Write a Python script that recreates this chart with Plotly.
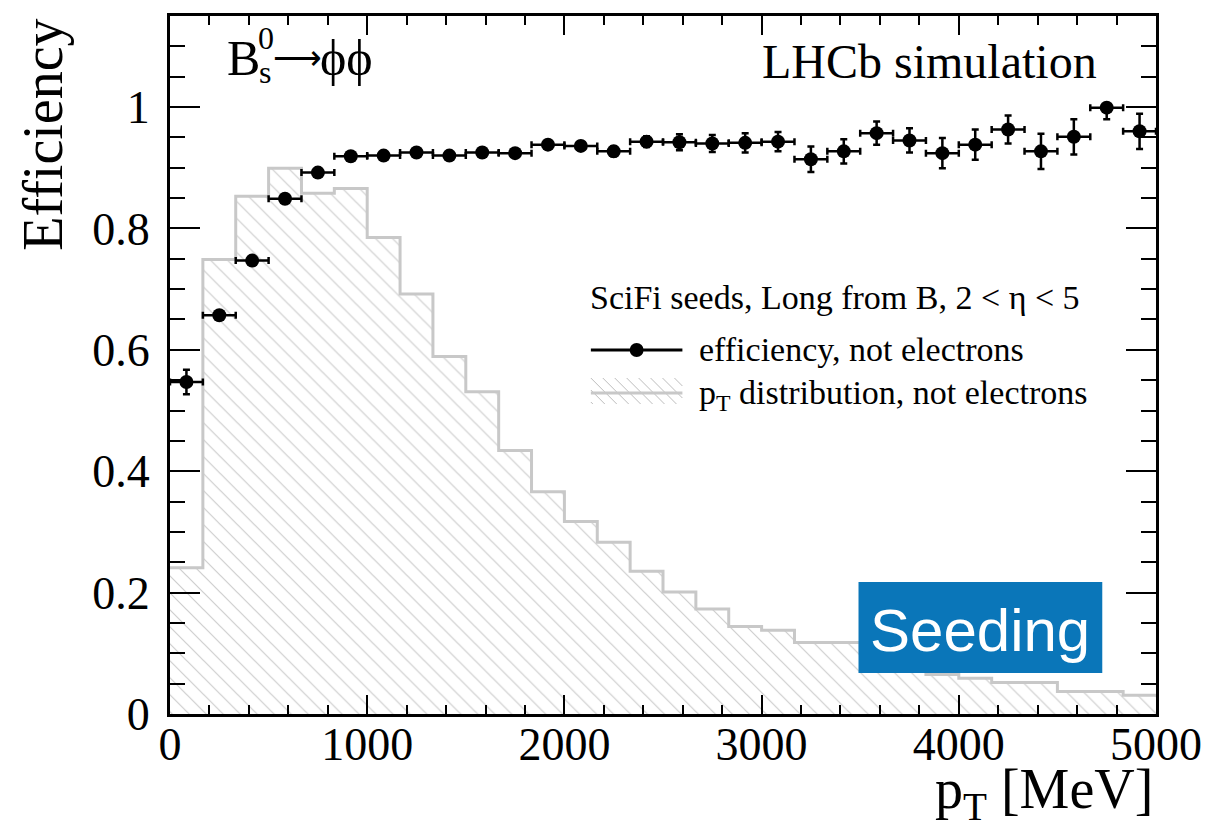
import numpy as np
import plotly.graph_objects as go

# ---------------- data ----------------
pt_min, pt_max, n_bins = 0.0, 5000.0, 30
bin_edges = np.linspace(pt_min, pt_max, n_bins + 1)
bin_centers = 0.5 * (bin_edges[:-1] + bin_edges[1:])
bin_half_width = 0.5 * (bin_edges[1] - bin_edges[0])

efficiency = [0.547, 0.657, 0.747, 0.849, 0.892, 0.919, 0.920, 0.925, 0.920, 0.925,
              0.924, 0.938, 0.936, 0.927, 0.943, 0.942, 0.940, 0.941, 0.943, 0.914,
              0.927, 0.957, 0.945, 0.924, 0.938, 0.963, 0.927, 0.951, 0.999, 0.960]
eff_err_up = [0.020, 0.005, 0.005, 0.005, 0.005, 0.004, 0.004, 0.004, 0.005, 0.005,
              0.006, 0.007, 0.007, 0.008, 0.009, 0.013, 0.014, 0.016, 0.016, 0.021,
              0.020, 0.019, 0.020, 0.025, 0.025, 0.023, 0.029, 0.029, 0.000, 0.029]
eff_err_dn = [0.020, 0.005, 0.005, 0.005, 0.005, 0.004, 0.004, 0.004, 0.005, 0.005,
              0.006, 0.007, 0.007, 0.008, 0.009, 0.013, 0.014, 0.016, 0.016, 0.021,
              0.020, 0.019, 0.020, 0.025, 0.025, 0.023, 0.029, 0.029, 0.019, 0.029]

pt_distribution = [0.241, 0.749, 0.853, 0.899, 0.858, 0.866, 0.785, 0.692, 0.589, 0.531,
                   0.434, 0.366, 0.317, 0.283, 0.235, 0.201, 0.173, 0.144, 0.138, 0.118,
                   0.118, 0.100, 0.083, 0.065, 0.059, 0.052, 0.052, 0.037, 0.037, 0.031]

x_ticks = [0, 1000, 2000, 3000, 4000, 5000]
y_ticks = [0, 0.2, 0.4, 0.6, 0.8, 1.0]

# ---------------- geometry helpers (page pixels -> paper) ----------------
W, H = 1214, 830
ML, MR, MT, MB = 170, 53, 16, 116
PW, PH = W - ML - MR, H - MT - MB


def px(x):
    return (x - ML) / PW


def py(y):
    return (H - MB - y) / PH


SERIF = "Liberation Serif, Times New Roman, serif"
SANS = "Liberation Sans, Arial, sans-serif"
HIST_GREY = "#c8c8c8"

fig = go.Figure()

# histogram (step, hatched)
fig.add_trace(go.Scatter(
    x=bin_edges, y=list(pt_distribution) + [pt_distribution[-1]],
    mode="lines", line=dict(shape="hv", color=HIST_GREY, width=3),
    fill="tozeroy",
    fillpattern=dict(shape="\\", fgcolor="#9a9a9a", bgcolor="rgba(255,255,255,0)",
                     size=12, solidity=0.1),
    fillcolor="rgba(255,255,255,0)",
    showlegend=False, hoverinfo="skip",
))

# efficiency points
fig.add_trace(go.Scatter(
    x=bin_centers, y=efficiency, mode="markers",
    marker=dict(size=14, color="black"),
    error_x=dict(type="constant", value=bin_half_width, color="black",
                 thickness=2.5, width=3.5),
    error_y=dict(type="data", array=eff_err_up, arrayminus=eff_err_dn,
                 color="black", thickness=2.5, width=3.5),
    showlegend=False,
))

shapes = []
annotations = []

# ---------- legend (drawn by hand, ROOT style) ----------
lx0, lx1 = 593, 685
shapes.append(dict(type="line", xref="paper", yref="paper",
                   x0=px(lx0), x1=px(lx1), y0=py(350), y1=py(350),
                   line=dict(color="black", width=3)))
shapes.append(dict(type="circle", xref="paper", yref="paper",
                   x0=px(639 - 7), x1=px(639 + 7), y0=py(350 - 7), y1=py(350 + 7),
                   fillcolor="black", line=dict(color="black", width=0)))
ry0, ry1 = 378, 404
step = 12
for k in range(-3, 10):
    xs = lx0 + k * step
    xa, ya = xs, ry0
    xb, yb = xs + (ry1 - ry0), ry1
    if xa < lx0:
        ya += lx0 - xa
        xa = lx0
    if xb > lx1:
        yb -= xb - lx1
        xb = lx1
    if xa >= xb:
        continue
    shapes.append(dict(type="line", xref="paper", yref="paper",
                       x0=px(xa), x1=px(xb), y0=py(ya), y1=py(yb),
                       line=dict(color="#bdbdbd", width=1)))
shapes.append(dict(type="line", xref="paper", yref="paper",
                   x0=px(lx0), x1=px(lx1), y0=py(393), y1=py(393),
                   line=dict(color=HIST_GREY, width=3)))

LEG_SIZE = 34
annotations.append(dict(text="SciFi seeds, Long from B, 2 &lt; η &lt; 5",
                        xref="paper", yref="paper", x=px(590), y=py(297),
                        xanchor="left", yanchor="middle", showarrow=False,
                        font=dict(family=SERIF, size=LEG_SIZE, color="black")))
annotations.append(dict(text="efficiency, not electrons",
                        xref="paper", yref="paper", x=px(700), y=py(349),
                        xanchor="left", yanchor="middle", showarrow=False,
                        font=dict(family=SERIF, size=LEG_SIZE, color="black")))
annotations.append(dict(text="p<sub>T</sub> distribution, not electrons",
                        xref="paper", yref="paper", x=px(700), y=py(395),
                        xanchor="left", yanchor="middle", showarrow=False,
                        font=dict(family=SERIF, size=LEG_SIZE, color="black")))

# ---------- Seeding box ----------
shapes.append(dict(type="rect", xref="paper", yref="paper",
                   x0=px(862), x1=px(1107), y0=py(673), y1=py(582),
                   fillcolor="#0a76b9", line=dict(width=0), layer="above"))
annotations.append(dict(text="Seeding", xref="paper", yref="paper",
                        x=px(984), y=py(630), xanchor="center", yanchor="middle",
                        showarrow=False,
                        font=dict(family=SANS, size=60, color="white")))

# ---------- labels ----------
annotations.append(dict(text="LHCb simulation", xref="paper", yref="paper",
                        x=px(1104), y=py(62), xanchor="right", yanchor="middle",
                        showarrow=False,
                        font=dict(family=SERIF, size=48, color="black")))
annotations.append(dict(text="B", xref="paper", yref="paper",
                        x=px(225), y=py(58), xanchor="left", yanchor="middle",
                        showarrow=False, font=dict(family=SERIF, size=50, color="black")))
annotations.append(dict(text="0", xref="paper", yref="paper",
                        x=px(256), y=py(38), xanchor="left", yanchor="middle",
                        showarrow=False, font=dict(family=SERIF, size=32, color="black")))
annotations.append(dict(text="s", xref="paper", yref="paper",
                        x=px(257), y=py(72), xanchor="left", yanchor="middle",
                        showarrow=False, font=dict(family=SERIF, size=32, color="black")))
annotations.append(dict(text="⟶", xref="paper", yref="paper",
                        x=px(272), y=py(58), xanchor="left", yanchor="middle",
                        showarrow=False, font=dict(family=SERIF, size=34, color="black")))
annotations.append(dict(text="ϕϕ", xref="paper", yref="paper",
                        x=px(319), y=py(58), xanchor="left", yanchor="middle",
                        showarrow=False, font=dict(family=SERIF, size=50, color="black")))

annotations.append(dict(text="Efficiency", xref="paper", yref="paper",
                        x=px(42), y=py(17), xanchor="center", yanchor="top",
                        textangle=-90, showarrow=False,
                        font=dict(family=SERIF, size=56, color="black")))
annotations.append(dict(text="p<sub>T</sub> [MeV]", xref="paper", yref="paper",
                        x=px(1160), y=py(793), xanchor="right", yanchor="middle",
                        showarrow=False,
                        font=dict(family=SERIF, size=56, color="black")))

axis_common = dict(showgrid=False, zeroline=False, showline=True, linecolor="black",
                   linewidth=3, mirror="allticks", ticks="inside", tickcolor="black",
                   tickwidth=2, tickfont=dict(family=SERIF, size=46, color="black"))

fig.update_layout(
    width=W, height=H,
    margin=dict(l=ML, r=MR, t=MT, b=MB),
    paper_bgcolor="white", plot_bgcolor="white",
    showlegend=False,
    xaxis=dict(range=[pt_min, pt_max], tickvals=x_ticks, ticklen=19,
               minor=dict(dtick=200, ticklen=9, tickwidth=2, tickcolor="black",
                          ticks="inside"),
               ticklabelstandoff=-12,
               **axis_common),
    yaxis=dict(range=[0, 1.15], tickvals=y_ticks, ticklen=30,
               minor=dict(dtick=0.05, ticklen=15, tickwidth=2, tickcolor="black",
                          ticks="inside"),
               ticklabelstandoff=8,
               **axis_common),
    shapes=shapes,
    annotations=annotations,
)

fig.write_html("out.html")
